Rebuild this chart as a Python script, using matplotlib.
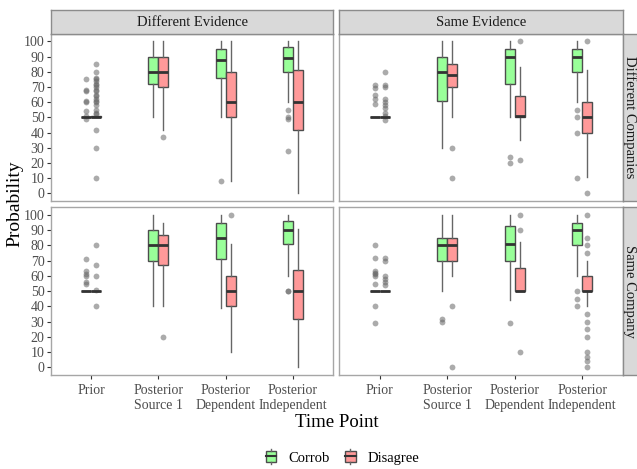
import matplotlib
matplotlib.use("Agg")
import matplotlib.pyplot as plt
from matplotlib.patches import Rectangle
from matplotlib.legend_handler import HandlerBase
from matplotlib.lines import Line2D

plt.rcParams['font.family'] = ['Liberation Serif', 'DejaVu Serif']

# ---------------- data ----------------
categories = ["Prior", "Posterior\nSource 1", "Posterior\nDependent", "Posterior\nIndependent"]
col_labels = ["Different Evidence", "Same Evidence"]
row_labels = ["Different Companies", "Same Company"]
groups = ["Corrob", "Disagree"]
yticks = list(range(0, 101, 10))

# panel order: TL (DiffEv/DiffComp), TR (SameEv/DiffComp), BL (DiffEv/SameComp), BR (SameEv/SameComp)
corrob_q1 = [[50, 72, 76, 80], [50, 61, 72, 80], [50, 70, 71, 81], [50, 70, 70, 80]]
corrob_med = [[50, 80, 88, 89], [50, 80, 90, 90], [50, 80, 85, 90], [50, 80, 81, 90]]
corrob_q3 = [[50, 90, 95, 96], [50, 90, 95, 95], [50, 90, 95, 96], [50, 85, 93, 95]]
corrob_wlo = [[50, 50, 50, 60], [50, 30, 50, 60], [50, 40, 39, 60], [50, 50, 44, 60]]
corrob_whi = [[50, 100, 100, 100], [50, 100, 100, 100], [50, 100, 100, 100], [50, 100, 100, 100]]
corrob_out = [
    [[49, 51, 54, 60, 61, 67, 68, 75], [], [8], [28, 49, 50, 55]],
    [[59, 62, 65, 69, 71], [], [20, 24], [10, 40, 50, 55]],
    [[55, 56, 60, 61, 63, 71], [], [], [50, 50]],
    [[29, 40, 55, 60, 61, 62, 63, 72, 80], [30, 32], [29], [40, 45, 50]],
]

disagree_q1 = [[50, 70, 50, 42], [50, 70, 50, 40], [50, 67, 40, 32], [50, 70, 50, 50]]
disagree_med = [[50, 80, 60, 60], [50, 78, 51, 50], [50, 80, 50, 50], [50, 80, 50, 50]]
disagree_q3 = [[51, 90, 80, 81], [50, 85, 64, 60], [50, 87, 60, 64], [50, 85, 65, 60]]
disagree_wlo = [[50, 42, 8, 0], [50, 50, 35, 11], [50, 40, 10, 0], [50, 60, 50, 40]]
disagree_whi = [[51, 100, 100, 100], [50, 100, 83, 81], [50, 95, 81, 91], [50, 100, 82, 70]]
disagree_out = [
    [[10, 30, 42, 52, 53, 55, 58, 60, 61, 62, 64, 65, 67, 68, 70, 71, 72, 74, 75, 76, 80, 85], [37], [], []],
    [[48, 51, 53, 56, 58, 60, 62, 70, 71, 80], [10, 30], [22, 100], [0, 100]],
    [[40, 51, 60, 67, 80], [20], [100], []],
    [[54, 56, 58, 60, 70, 72], [0, 40], [10, 90, 100], [0, 4, 7, 10, 20, 25, 30, 35, 75, 80, 85, 100]],
]

# ---------------- style ----------------
fill_colors = ["#99FF99", "#FF9999"]
W, H = 637, 469

fig = plt.figure(figsize=(W / 100, H / 100), dpi=100)


def rect(x0, y0, x1, y1):
    return [x0 / W, 1 - y1 / H, (x1 - x0) / W, (y1 - y0) / H]


panel_px = [
    (50.7, 33.7, 333.3, 201.0),
    (339.3, 33.7, 622.7, 201.0),
    (50.7, 207.3, 333.3, 375.0),
    (339.3, 207.3, 622.7, 375.0),
]

stats_sets = [
    (corrob_q1, corrob_med, corrob_q3, corrob_wlo, corrob_whi, corrob_out),
    (disagree_q1, disagree_med, disagree_q3, disagree_wlo, disagree_whi, disagree_out),
]
offsets = [-0.075, 0.075]
tick_col = "#4D4D4D"

for p, (x0, y0, x1, y1) in enumerate(panel_px):
    ax = fig.add_axes(rect(x0, y0, x1, y1))
    ax.set_facecolor("white")
    for s in ax.spines.values():
        s.set_color("#A6A6A6")
        s.set_linewidth(1.0)
    for g, (q1, med, q3, wlo, whi, out) in enumerate(stats_sets):
        bstats = []
        for i in range(len(categories)):
            bstats.append(dict(q1=q1[p][i], med=med[p][i], q3=q3[p][i],
                               whislo=wlo[p][i], whishi=whi[p][i], fliers=out[p][i]))
        pos = [i + 1 + offsets[g] for i in range(len(categories))]
        ax.bxp(bstats, positions=pos, widths=0.15, patch_artist=True, showcaps=False,
               boxprops=dict(facecolor=fill_colors[g], edgecolor="#4D4D4D", linewidth=1.0),
               medianprops=dict(color="#333333", linewidth=2.0, solid_capstyle="butt"),
               whiskerprops=dict(color="#666666", linewidth=1.0),
               flierprops=dict(marker="o", markerfacecolor="#666666", markeredgecolor="none",
                               alpha=0.55, markersize=4.2),
               manage_ticks=False)
    ax.set_xlim(0.4, 4.6)
    ax.set_ylim(-5, 105)
    ax.set_xticks(range(1, len(categories) + 1))
    ax.set_yticks(yticks)
    left = p in (0, 2)
    bottom = p in (2, 3)
    ax.tick_params(axis="y", left=left, labelleft=left, length=3, color="#333333",
                   labelsize=10, labelcolor=tick_col, pad=1.5)
    ax.tick_params(axis="x", bottom=bottom, labelbottom=bottom, length=3, color="#333333",
                   labelsize=10, labelcolor=tick_col, pad=3.5)
    if bottom:
        ax.set_xticklabels(categories, linespacing=1.15)
    else:
        ax.set_xticklabels([])
    if left:
        ax.set_yticklabels([str(v) for v in yticks])

# strips
strip_fc = "#D9D9D9"
strip_ec = "#8C8C8C"
for c, (x0, x1) in enumerate([(50.7, 333.3), (339.3, 622.7)]):
    sa = fig.add_axes(rect(x0, 10.0, x1, 33.7))
    sa.set_facecolor(strip_fc)
    sa.set_xticks([]); sa.set_yticks([])
    for s in sa.spines.values():
        s.set_color(strip_ec); s.set_linewidth(1.0)
    sa.text(0.5, 0.47, col_labels[c], ha="center", va="center", fontsize=10.5,
            color="#1A1A1A", transform=sa.transAxes)

for r, (y0, y1) in enumerate([(33.7, 201.0), (207.3, 375.0)]):
    sa = fig.add_axes(rect(622.7, y0, 641.0, y1))
    sa.set_facecolor(strip_fc)
    sa.set_xticks([]); sa.set_yticks([])
    for s in sa.spines.values():
        s.set_color(strip_ec); s.set_linewidth(1.0)
    fig.text(629.8 / W, 1 - (y0 + y1) / 2 / H, row_labels[r], ha="center", va="center",
             rotation=-90, fontsize=10.5, color="#1A1A1A")

# axis titles
fig.text(14.5 / W, 1 - 204 / H, "Probability", rotation=90, ha="center", va="center", fontsize=14)
fig.text(337 / W, 1 - 422 / H, "Time Point", ha="center", va="center", fontsize=13.5)


# legend with mini-boxplot keys
class BoxKeyHandler(HandlerBase):
    def create_artists(self, legend, orig_handle, xdescent, ydescent, width, height, fontsize, trans):
        kw = 7.5
        kx = xdescent + (width - kw) / 2
        hh = height * 1.0
        ky = ydescent + (height - hh) / 2
        r = Rectangle((kx, ky), kw, hh, facecolor=orig_handle.get_facecolor(),
                      edgecolor="#4D4D4D", linewidth=1.0, transform=trans)
        m = Line2D([kx, kx + kw], [ky + hh / 2, ky + hh / 2], color="#333333", lw=1.5, transform=trans)
        w1 = Line2D([kx + kw / 2, kx + kw / 2], [ky - 2, ky], color="#666666", lw=1.0, transform=trans)
        w2 = Line2D([kx + kw / 2, kx + kw / 2], [ky + hh, ky + hh + 2], color="#666666", lw=1.0, transform=trans)
        return [r, m, w1, w2]


handles = [Rectangle((0, 0), 1, 1, facecolor=fill_colors[g]) for g in range(len(groups))]
fig.legend(handles, groups, handler_map={Rectangle: BoxKeyHandler()}, loc="center",
           bbox_to_anchor=(341 / W, 1 - 458 / H), ncol=2, frameon=False, fontsize=10.5,
           handlelength=1.2, handletextpad=0.6, columnspacing=0.8)

fig.savefig("out.png", dpi=100)
